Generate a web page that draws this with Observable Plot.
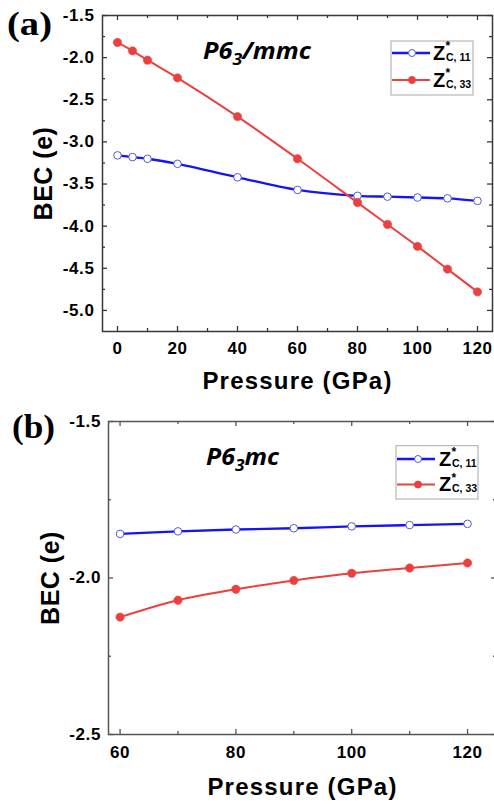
<!DOCTYPE html>
<html><head><meta charset="utf-8">
<script src="https://cdn.jsdelivr.net/npm/d3@7"></script>
<script src="https://cdn.jsdelivr.net/npm/@observablehq/plot@0.6"></script>
<style>
body{margin:0;background:#fff;overflow:hidden;}
.panel svg{display:block;overflow:visible;}
svg [aria-label$="tick label"] text{letter-spacing:0.6px;font-size:17px;font-weight:bold;}
</style></head><body><div id="wrap"></div>
<script>
// ---- Panel (a): P6_3/mmc ----
const pressureA = [0, 5, 10, 20, 40, 60, 80, 90, 100, 110, 120];
const zc11A = [-3.16, -3.18, -3.20, -3.26, -3.42, -3.57, -3.64, -3.65, -3.66, -3.67, -3.70];
const zc33A = [-1.82, -1.92, -2.03, -2.24, -2.70, -3.20, -3.72, -3.98, -4.24, -4.51, -4.78];
const yTicksA = [-5.0, -4.5, -4.0, -3.5, -3.0, -2.5, -2.0, -1.5];
const yMinorA = [-4.75, -4.25, -3.75, -3.25, -2.75, -2.25, -1.75];
const xTicksA = [0, 20, 40, 60, 80, 100, 120];
const xMinorA = [10, 30, 50, 70, 90, 110];
const titleA = ["P6", "3", "/mmc"];

// ---- Panel (b): P6_3mc ----
const pressureB = [60, 70, 80, 90, 100, 110, 120];
const zc11B = [-1.859, -1.851, -1.845, -1.841, -1.835, -1.831, -1.827];
const zc33B = [-2.125, -2.071, -2.036, -2.008, -1.985, -1.968, -1.952];
const yTicksB = [-2.5, -2.0, -1.5];
const yMinorB = [-2.25, -1.75];
const xTicksB = [60, 80, 100, 120];
const xMinorB = [70, 90, 110];
const titleB = ["P6", "3", "mc"];

const seriesLabels = [
  {main: "Z", sup: "*", sub: "C, 11"},
  {main: "Z", sup: "*", sub: "C, 33"}
];
const xLabel = "Pressure (GPa)";
const yLabel = "BEC (e)";

const BLUE = "#1414f5", RED = "#ec4040", OPEN = "#5a5ac8";
const SANS = "'Liberation Sans', Arial, Helvetica, sans-serif";

function makePanel(o) {
  const W = 494;
  const fw = W - o.ml - o.mr, fh = o.h - o.mt - o.mb;
  const rows = o.p.map((p, i) => ({p, v11: o.s11[i], v33: o.s33[i]}));
  const ts = {stroke: o.fc, strokeWidth: 1.3};
  const chart = Plot.plot({
    width: W, height: o.h,
    marginLeft: o.ml, marginRight: o.mr, marginTop: o.mt, marginBottom: o.mb,
    style: {fontFamily: SANS, background: "transparent", color: "#000", overflow: "visible"},
    x: {domain: o.xd, label: null},
    y: {domain: o.yd, label: null},
    marks: [
      Plot.tickY(o.yMajor, {y: d => d, insetRight: fw - 5, ...ts}),
      Plot.tickY(o.yMajor, {y: d => d, insetLeft: fw - 5, ...ts}),
      Plot.tickY(o.yMinor, {y: d => d, insetRight: fw - 3, ...ts}),
      Plot.tickY(o.yMinor, {y: d => d, insetLeft: fw - 3, ...ts}),
      Plot.tickX(o.xMajor, {x: d => d, insetTop: fh - 5, ...ts}),
      Plot.tickX(o.xMajor, {x: d => d, insetBottom: fh - 5, ...ts}),
      Plot.tickX(o.xMinor, {x: d => d, insetTop: fh - 3, ...ts}),
      Plot.tickX(o.xMinor, {x: d => d, insetBottom: fh - 3, ...ts}),
      Plot.axisX({ticks: o.xMajor, tickSize: 0, tickPadding: o.xpad, tickFormat: d => String(d),
        fontSize: 17, fontWeight: "bold", label: null}),
      Plot.axisY({ticks: o.yMajor, tickSize: 0, tickPadding: o.ypad, tickFormat: d => d.toFixed(1),
        fontSize: 17, fontWeight: "bold", label: null}),
      Plot.frame({stroke: o.fc, strokeWidth: 1.5}),
      Plot.line(rows, {x: "p", y: "v11", stroke: BLUE, strokeWidth: 2.3, curve: "catmull-rom"}),
      Plot.line(rows, {x: "p", y: "v33", stroke: RED, strokeWidth: 2, curve: "catmull-rom"}),
      Plot.dot(rows, {x: "p", y: "v11", r: 3.8, fill: "white", stroke: OPEN, strokeWidth: 1}),
      Plot.dot(rows, {x: "p", y: "v33", r: 4.2, fill: RED, stroke: RED, strokeWidth: 0.5}),
      Plot.text([xLabel], {text: d => d, frameAnchor: "bottom", dy: o.xdy, textAnchor: "middle", lineAnchor: "middle",
        fontSize: 24, fontWeight: "bold"}),
      Plot.text([yLabel], {text: d => d, frameAnchor: "left", dx: o.ydx, rotate: -90, textAnchor: "middle", lineAnchor: "middle",
        fontSize: 25, fontWeight: "bold"})
    ]
  });
  const svg = d3.select(chart);
  svg.selectAll("text").filter(function() { return this.textContent === xLabel; }).style("letter-spacing", "1.2px");
  svg.selectAll("text").filter(function() { return this.textContent === yLabel; }).style("letter-spacing", "0.5px");

  const over = svg.append("g").attr("text-anchor", "start");

  // panel letter
  over.append("text").attr("x", o.letter.x).attr("y", o.letter.y)
    .attr("font-family", "'Liberation Serif', 'Times New Roman', serif").attr("font-weight", "bold")
    .attr("font-size", 34).attr("textLength", o.letter.len).attr("lengthAdjust", "spacingAndGlyphs")
    .text(o.letter.t);

  // phase title
  const t = over.append("text").attr("x", o.title.x).attr("y", o.title.y)
    .attr("font-family", "'Open Sans', sans-serif").attr("font-weight", 700).attr("font-style", "italic")
    .attr("font-size", 23).attr("textLength", o.title.len).attr("lengthAdjust", "spacingAndGlyphs");
  t.append("tspan").text(o.title.parts[0]);
  t.append("tspan").attr("font-size", 16).attr("dy", 6).text(o.title.parts[1]);
  t.append("tspan").attr("dy", -6).text(o.title.parts[2]);

  // legend
  const L = o.legend;
  const g = over.append("g");
  g.append("rect").attr("x", L.x).attr("y", L.y).attr("width", L.w).attr("height", L.h)
    .attr("fill", "white").attr("stroke", "#a8a8a8").attr("stroke-width", 1);
  const styles = [{stroke: BLUE, fill: "white", dot: OPEN, w: 2.3}, {stroke: RED, fill: RED, dot: RED, w: 2}];
  seriesLabels.forEach((s, i) => {
    const cy = L.rows[i];
    g.append("line").attr("x1", L.lx1).attr("x2", L.lx2).attr("y1", cy).attr("y2", cy)
      .attr("stroke", styles[i].stroke).attr("stroke-width", styles[i].w);
    g.append("circle").attr("cx", L.dx).attr("cy", cy).attr("r", 3.5)
      .attr("fill", styles[i].fill).attr("stroke", styles[i].dot).attr("stroke-width", 1);
    g.append("text").attr("x", L.tx).attr("y", cy + 6.5).attr("font-family", SANS).attr("font-weight", "bold")
      .attr("font-size", 20).text(s.main);
    g.append("text").attr("x", L.tx + 12.5).attr("y", cy - 3).attr("font-family", SANS).attr("font-weight", "bold")
      .attr("font-size", 12).text(s.sup);
    g.append("text").attr("x", L.tx + 13).attr("y", cy + 7.5).attr("font-family", SANS).attr("font-weight", "bold")
      .attr("font-size", 10.5).text(s.sub);
  });

  const div = document.createElement("div");
  div.className = "panel";
  div.appendChild(chart);
  document.getElementById("wrap").appendChild(div);
}

makePanel({
  p: pressureA, s11: zc11A, s33: zc33A,
  h: 400, ml: 102, mr: 2, mt: 15, mb: 69,
  xd: [-5, 125], yd: [-5.25, -1.5],
  xMajor: xTicksA, xMinor: xMinorA, yMajor: yTicksA, yMinor: yMinorA,
  xpad: 10, ypad: 8, xdy: 50.3, ydx: -58.5, fc: "#383838",
  letter: {x: 7, y: 35, t: "(a)", len: 45},
  title: {x: 203, y: 59, parts: titleA, len: 108},
  legend: {x: 391, y: 41, w: 82, h: 54, rows: [53, 80], lx1: 392, lx2: 430, dx: 412, tx: 433}
});
makePanel({
  p: pressureB, s11: zc11B, s33: zc33B,
  h: 404, ml: 108, mr: -2, mt: 21, mb: 70,
  xd: [58, 125], yd: [-2.5, -1.5],
  xMajor: xTicksB, xMinor: xMinorB, yMajor: yTicksB, yMinor: yMinorB,
  xpad: 11, ypad: 7.5, xdy: 52.6, ydx: -58, fc: "#555",
  letter: {x: 12, y: 38, t: "(b)", len: 43},
  title: {x: 206, y: 65, parts: titleB, len: 73},
  legend: {x: 396, y: 45.7, w: 82, h: 53.3, rows: [59, 84.5], lx1: 397, lx2: 435, dx: 418, tx: 439}
});
</script></body></html>
